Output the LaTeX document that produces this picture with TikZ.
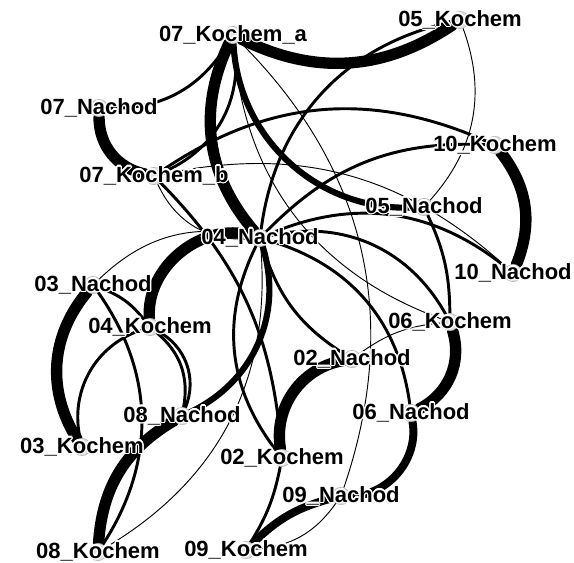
\documentclass[tikz,border=0pt]{standalone}
\usepackage{fontspec}
\setmainfont{Liberation Sans}
\usepackage{tikz}
\usepackage{contour}
\contourlength{0.9pt}
\contournumber{20}
\usetikzlibrary{positioning}
\pgfdeclarelayer{bg}
\pgfsetlayers{bg,main}

\begin{document}
\begin{tikzpicture}[
  x=0.75pt, y=0.75pt,
  font=\fontsize{16.5}{18}\selectfont\bfseries,
  vtx/.style={circle, draw=black!30, fill=black!12, minimum size=13pt, inner sep=0pt},
  lbl/.style={text=black, inner sep=0pt},
  tie/.style={draw=black, line cap=round},
  tie1/.style={tie, line width=0.7pt},
  tie2/.style={tie, line width=2.2pt},
  tie3/.style={tie, line width=4.6pt},
  tie4/.style={tie, line width=6pt},
  tie5/.style={tie, line width=8.5pt},
]
\useasboundingbox (0,0) rectangle (574,-563);

% actors
\foreach \id/\x/\y/\txt in {
  k7a/233/35/07\_Kochem\_a, k5/460/20/05\_Kochem, n7/99/108/07\_Nachod,
  k7b/154/176/07\_Kochem\_b, k10/495/145/10\_Kochem, n5/424/207/05\_Nachod,
  n4/260/238/04\_Nachod, n10/513/273/10\_Nachod, n3/93/285/03\_Nachod,
  k4/150/327/04\_Kochem, k6/450/322/06\_Kochem, n2/352/359/02\_Nachod,
  n8/182/416/08\_Nachod, n6/411/413/06\_Nachod, k3/82/447/03\_Kochem,
  k2/282/458/02\_Kochem, n9/341/496/09\_Nachod, k8/98/552/08\_Kochem,
  k9/246/550/09\_Kochem}
  \node[vtx, label={[lbl]center:\contour{white}{\txt}}] (\id) at (\x,-\y) {};

\begin{pgfonlayer}{bg}
% strongest ties
\foreach \a/\b/\ang in {k7a/k5/-30, k7a/n4/-33, n7/k7b/-39, n4/k4/-55,
    n3/k3/-36, n2/k2/-45, k6/n6/40, k10/n10/30, n8/k8/-28}
  \draw[tie5] (\a) to[bend left=\ang] (\b);
\foreach \a/\b/\ang in {n6/n9/50, n9/k9/-15}
  \draw[tie4] (\a) to[bend left=\ang] (\b);
\foreach \a/\b/\ang in {k7a/n5/-45, n4/n8/41}
  \draw[tie3] (\a) to[bend left=\ang] (\b);

% medium ties
\foreach \a/\b/\ang in {k7a/n7/30, k7a/k7b/38, k5/n4/-35, k7b/k10/29,
    k7b/k2/20, n4/k2/-32, n4/n2/-20, n4/n6/33, n4/k6/37, n4/n10/31,
    n4/k10/24, n3/k4/15, n3/k8/34, k4/k3/-42, k4/n8/30, k4/n8/42,
    k2/k9/10, n5/k6/12}
  \draw[tie2] (\a) to[bend left=\ang] (\b);

% weak ties
\foreach \a/\b/\ang in {k7a/k6/-33, k7a/n9/32, k5/n5/31, k7b/n10/27,
    k7b/n4/-35, n4/n3/-28, k8/n4/-32, n9/k9/25, n2/k6/15}
  \draw[tie1] (\a) to[bend left=\ang] (\b);
\end{pgfonlayer}
\end{tikzpicture}
\end{document}
